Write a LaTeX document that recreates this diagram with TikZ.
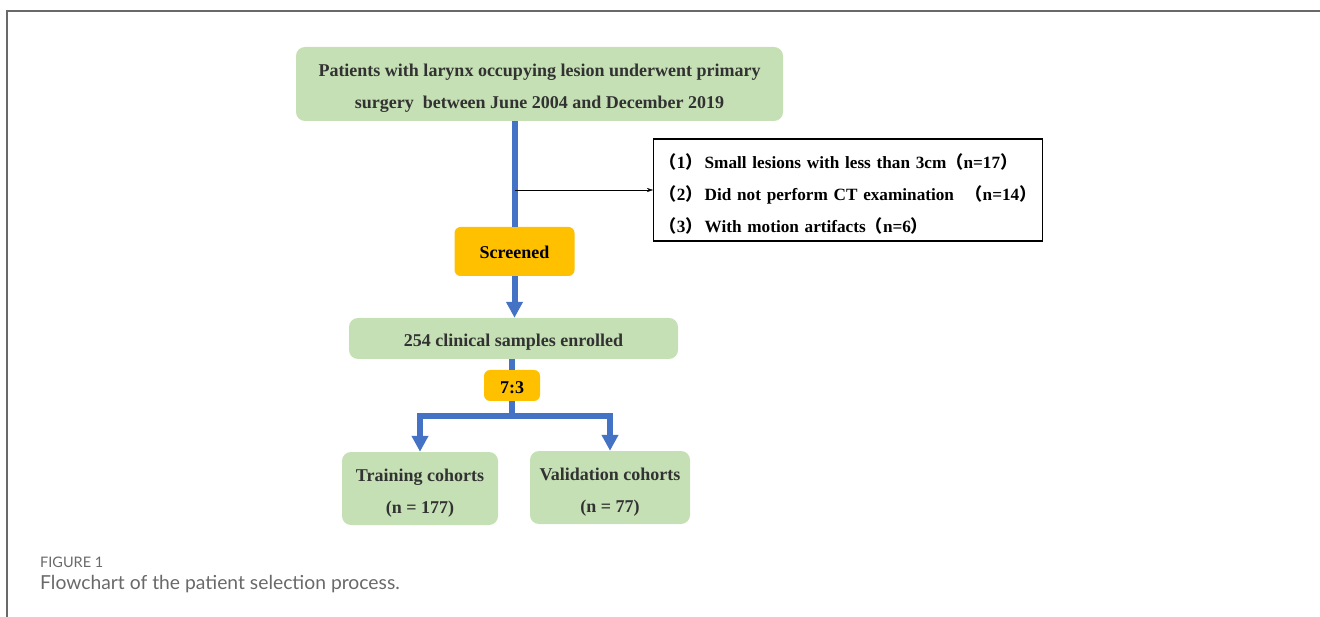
\documentclass[tikz,border=0pt]{standalone}
\usepackage{fontspec}
\setmainfont{Liberation Serif}
\newfontfamily\capfont{Lato}
\newfontfamily\cjk{Noto Sans CJK SC}
\usetikzlibrary{arrows.meta}

\newcommand{\lp}{{\cjk\bfseries （}}
\newcommand{\rp}{{\cjk\bfseries ）}\hspace{2pt}}

\begin{document}
\begin{tikzpicture}[x=1pt,y=-1pt,
  greenbox/.style={fill=boxgreen,rounded corners=9pt,text=boxtext,inner sep=0pt,
    text height=49pt,text depth=0pt,font=\fontsize{18}{31.5}\selectfont\bfseries,align=center},
  yellowbox/.style={fill=boxyellow,rounded corners=6pt,inner sep=0pt,
    text height=13.6pt,text depth=0pt,font=\fontsize{18}{20}\selectfont\bfseries},
  flow/.style={draw=flowblue,line width=6pt},
  flowarrow/.style={flow,-{Triangle[width=16pt,length=16pt]}}]
\definecolor{boxgreen}{RGB}{197,224,180}
\definecolor{boxyellow}{RGB}{255,192,0}
\definecolor{boxtext}{RGB}{50,50,50}
\definecolor{flowblue}{RGB}{68,114,196}
\definecolor{capgray}{RGB}{105,105,105}

	\useasboundingbox (0,0) rectangle (1320,617);
	\draw[capgray,line width=2pt] (1320,11) -- (7,11) -- (7,617);

	\node[greenbox,minimum width=487pt,minimum height=74pt,text height=48.6pt] (patients) at (539.5,84)
		{Patients with larynx occupying lesion underwent primary\\surgery\ \ between June 2004 and December 2019};
	\node[yellowbox,minimum width=120pt,minimum height=49pt] (screened) at (514.5,251.5){Screened};
	\node[greenbox,minimum width=329pt,minimum height=41pt,text height=16.4pt] (enrolled) at (513.5,338.5){254 clinical samples enrolled};
	\node[yellowbox,minimum width=56pt,minimum height=31pt,text height=17pt] (ratio) at (512,385.5){7:3};
	\node[greenbox,minimum width=156pt,minimum height=73pt] (training) at (420,488.5){Training cohorts\\(n = 177)};
	\node[greenbox,minimum width=160pt,minimum height=73pt] (validation) at (610,487.5){Validation cohorts\\(n = 77)};

	\node[draw=black,line width=1.3pt,fill=white,anchor=west,minimum height=102pt,
		text width=377pt,inner xsep=6pt,inner ysep=0pt,align=left,
		text height=21pt,text depth=64pt,
		font=\fontsize{17.2}{32}\selectfont\bfseries] (excluded) at (653,190)
		{\lp 1\rp Small lesions with less than 3cm\lp n=17\rp\\
		 \lp 2\rp Did not perform CT examination\ \ \lp n=14\rp\\
		 \lp 3\rp With motion artifacts\lp n=6\rp};

	\coordinate (branch) at (screened.north |- excluded.west);
	\coordinate (split) at (ratio.south |- 0,416);

	\draw[flow] (patients.south -| screened.north) -- (screened.north);
	\draw[-{Stealth[length=6pt,width=4pt]},thin] (branch) -- (excluded.west);
	\draw[flowarrow] (screened.south) -- (screened.south |- enrolled.north);
	\draw[flow] (enrolled.south -| ratio.north) -- (ratio.north);
	\draw[flow] (ratio.south) -- (split);
	\draw[flowarrow] (split) -| (training.north);
	\draw[flowarrow] (split) -| (validation.north);

	\node[anchor=base west,text=capgray,inner sep=0pt,font=\capfont\fontsize{14.5}{16}\selectfont] (fig) at (40,567){FIGURE 1};
	\node[anchor=base west,text=capgray,inner sep=0pt,font=\capfont\fontsize{19.3}{22}\selectfont] (caption) at (40,589){Flowchart of the patient selection process.};
\end{tikzpicture}
\end{document}
